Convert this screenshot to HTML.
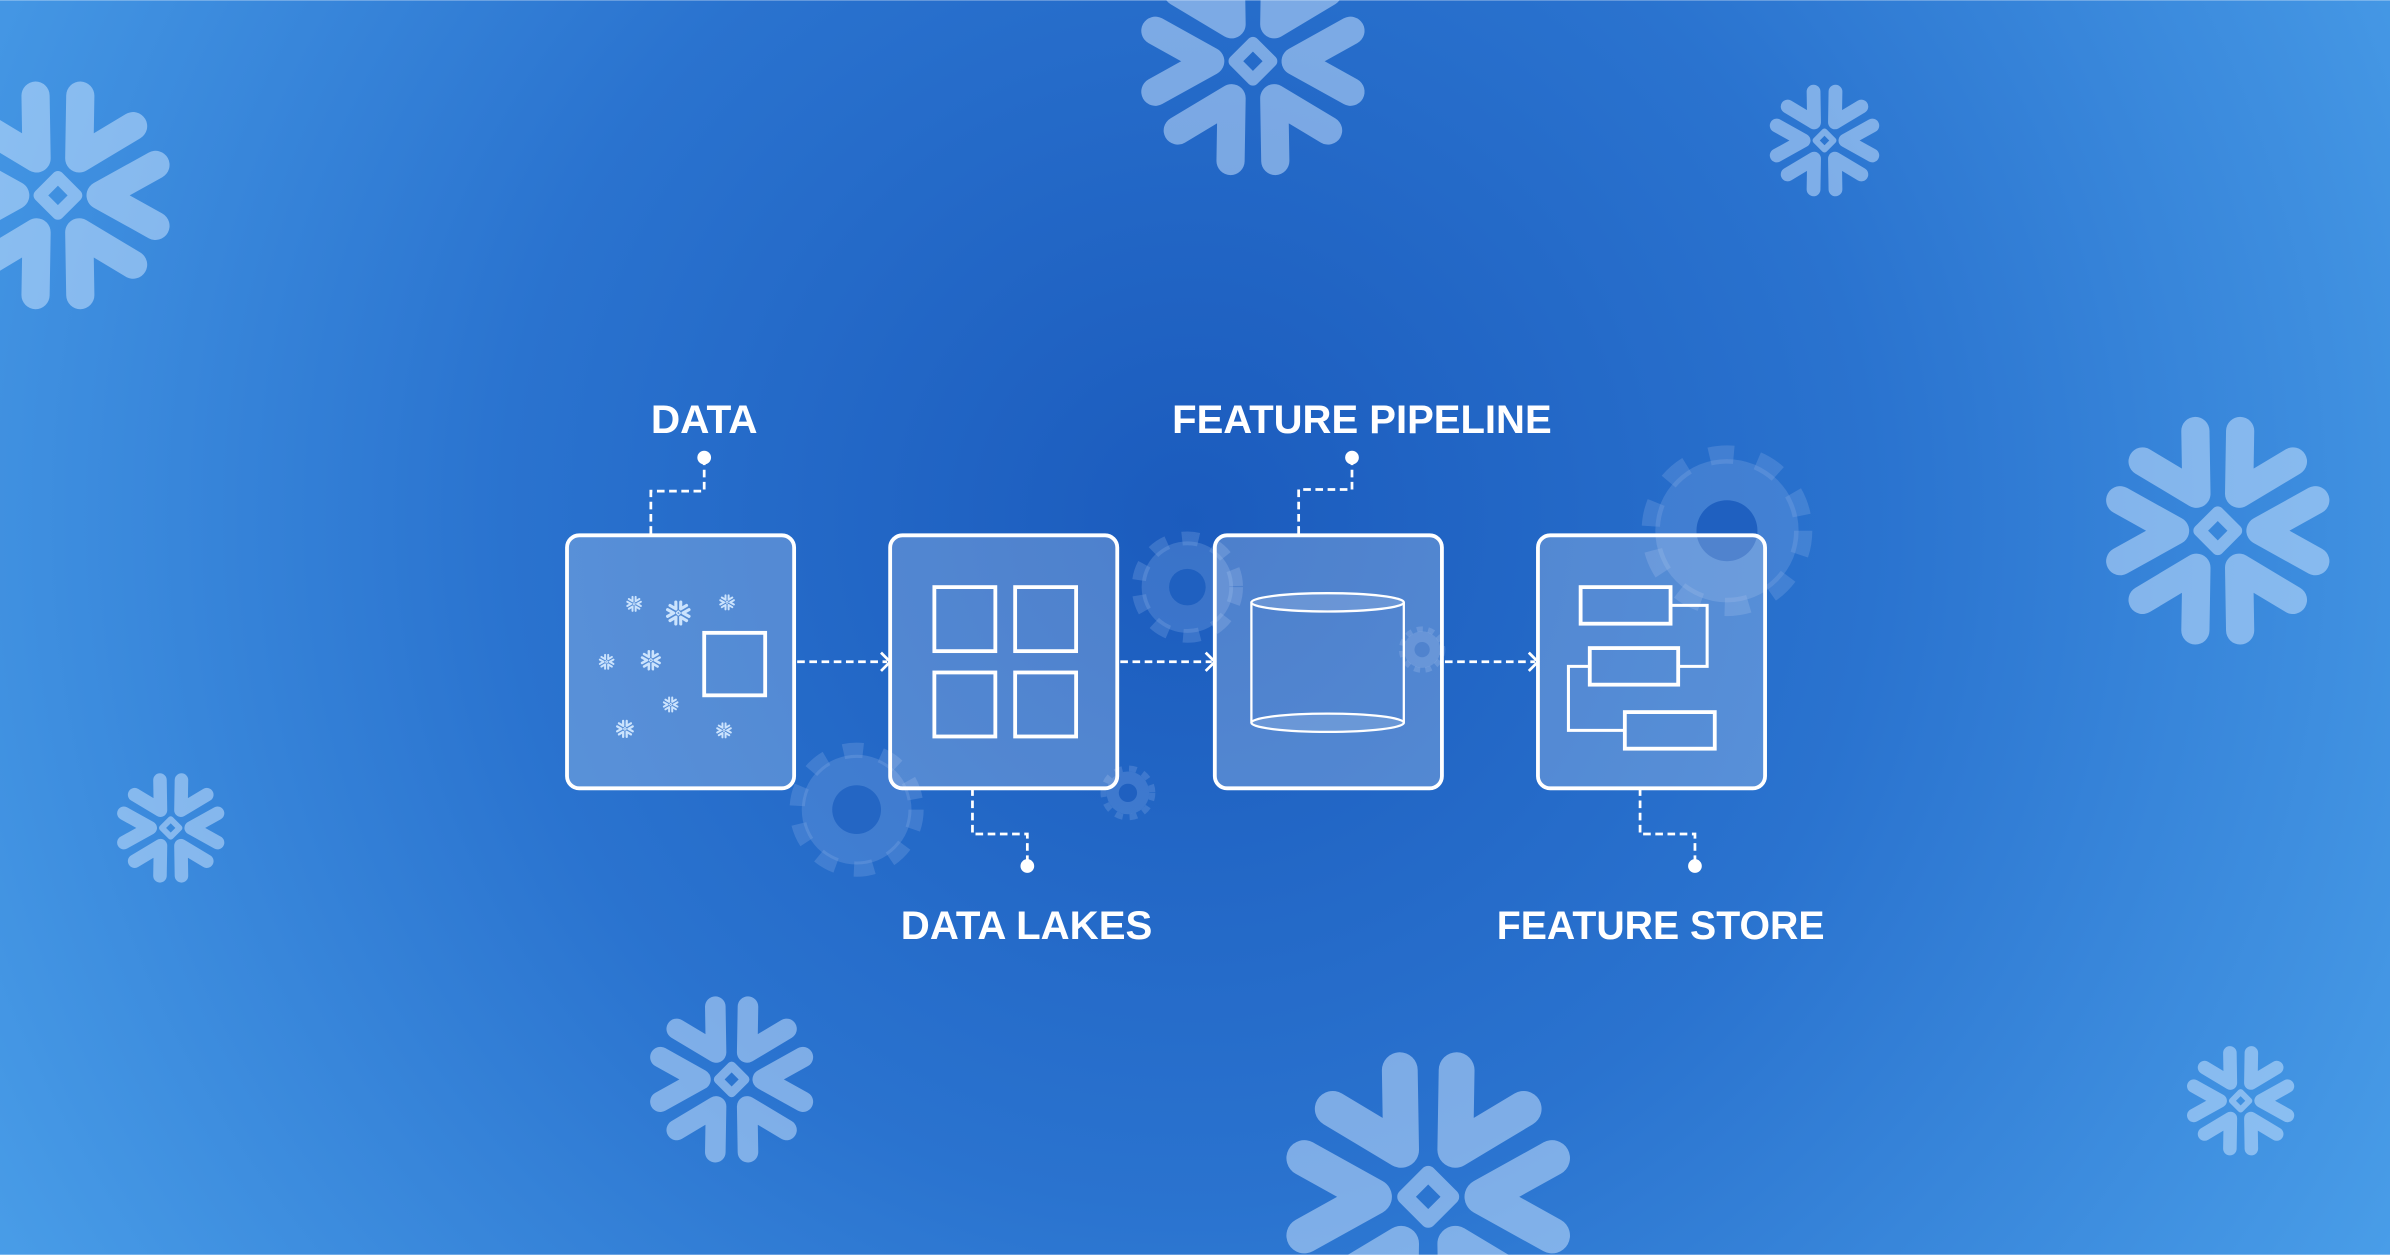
<!DOCTYPE html>
<html><head><meta charset="utf-8"><style>html,body{margin:0;padding:0;overflow:hidden;width:2390px;height:1255px;position:relative}svg{display:block;position:absolute;left:0;top:0}</style></head>
<body>
<svg width="2390" height="1255" viewBox="0 0 1568 823" xmlns="http://www.w3.org/2000/svg">
<defs>
<radialGradient id="bg" gradientUnits="userSpaceOnUse" cx="780" cy="340" r="1000">
<stop offset="0" stop-color="#1b5bbd"/>
<stop offset="0.45" stop-color="#2a73cf"/>
<stop offset="1" stop-color="#4ea4ec"/>
</radialGradient>
<g id="sf" fill="none" stroke-linecap="round" stroke-linejoin="round">
<g stroke-width="18.5">
<polyline points="64,-20 28,0 64,20"/>
<polyline points="64,-20 28,0 64,20" transform="rotate(60)"/>
<polyline points="64,-20 28,0 64,20" transform="rotate(120)"/>
<polyline points="64,-20 28,0 64,20" transform="rotate(180)"/>
<polyline points="64,-20 28,0 64,20" transform="rotate(240)"/>
<polyline points="64,-20 28,0 64,20" transform="rotate(300)"/>
</g>
<polygon points="0,-12 12,0 0,12 -12,0" stroke-width="8"/>
</g>
</defs>
<rect width="1568" height="823" fill="url(#bg)"/>

<g stroke="rgba(210,232,255,0.5)">
<use href="#sf" transform="translate(38,128) scale(1)"/>
<use href="#sf" transform="translate(822,40) scale(1)"/>
<use href="#sf" transform="translate(1197,92) scale(0.49)"/>
<use href="#sf" transform="translate(1455,348) scale(1)"/>
<use href="#sf" transform="translate(112,543) scale(0.48)"/>
<use href="#sf" transform="translate(480,708) scale(0.73)"/>
<use href="#sf" transform="translate(937,785) scale(1.27)"/>
<use href="#sf" transform="translate(1470,722) scale(0.48)"/>
</g>

<g fill="rgba(130,170,230,0.3)" stroke="rgba(130,170,230,0.3)">
<g transform="translate(1133,348)"><circle r="47" stroke="none"/><circle r="50" fill="none" stroke-width="12" stroke-dasharray="16 16"/></g>
<g transform="translate(779,385)"><circle r="30" stroke="none"/><circle r="32" fill="none" stroke-width="9" stroke-dasharray="11 10"/></g>
<g transform="translate(562,531)"><circle r="36" stroke="none"/><circle r="39" fill="none" stroke-width="10" stroke-dasharray="13 12"/></g>
<g transform="translate(740,520)"><circle r="14" stroke="none"/><circle r="16" fill="none" stroke-width="4" stroke-dasharray="5 4.5"/></g>
<g transform="translate(933,426)"><circle r="12" stroke="none"/><circle r="13.5" fill="none" stroke-width="3.5" stroke-dasharray="4 3.5"/></g>
</g>
<g fill="#1f60c0">
<circle cx="1133" cy="348" r="20"/>
<circle cx="779" cy="385" r="12"/>
<circle cx="562" cy="531" r="16" fill="#2466c4"/>
<circle cx="740" cy="520" r="6"/>
<circle cx="933" cy="426" r="5"/>
</g>

<g fill="rgba(255,255,255,0.22)" stroke="#fff" stroke-width="2.5">
<rect x="372" y="351" width="149" height="166" rx="8"/>
<rect x="584" y="351" width="149" height="166" rx="8"/>
<rect x="797" y="351" width="149" height="166" rx="8"/>
<rect x="1009" y="351" width="149" height="166" rx="8"/>
</g>

<g fill="none" stroke="#fff" stroke-width="2.5">
<rect x="462" y="415" width="40" height="41"/>
<rect x="613" y="385" width="40" height="42"/>
<rect x="666" y="385" width="40" height="42"/>
<rect x="613" y="441" width="40" height="42"/>
<rect x="666" y="441" width="40" height="42"/>
<line x1="821" y1="395" x2="821" y2="474" stroke-width="1.5"/>
<line x1="921" y1="395" x2="921" y2="474" stroke-width="1.5"/>
<ellipse cx="871" cy="395" rx="50" ry="6" stroke-width="1.5" fill="rgba(255,255,255,0.15)"/>
<ellipse cx="871" cy="474" rx="50" ry="6" stroke-width="1.5" fill="rgba(255,255,255,0.15)"/>
<rect x="1037" y="385" width="59" height="24"/>
<rect x="1043" y="425" width="58" height="24"/>
<rect x="1066" y="467" width="59" height="24"/>
<polyline points="1096,397 1120,397 1120,437 1101,437" stroke-width="2"/>
<polyline points="1043,437 1029,437 1029,479 1066,479" stroke-width="2"/>
</g>
<g stroke="rgba(210,232,255,0.95)">
<use href="#sf" transform="translate(416,396) scale(0.07)"/>
<use href="#sf" transform="translate(445,402) scale(0.11)"/>
<use href="#sf" transform="translate(477,395) scale(0.07)"/>
<use href="#sf" transform="translate(398,434) scale(0.07)"/>
<use href="#sf" transform="translate(427,433) scale(0.09)"/>
<use href="#sf" transform="translate(440,462) scale(0.07)"/>
<use href="#sf" transform="translate(410,478) scale(0.08)"/>
<use href="#sf" transform="translate(475,479) scale(0.07)"/>
</g>

<g fill="none" stroke="#fff" stroke-width="1.8" stroke-dasharray="5 3">
<line x1="523" y1="434" x2="582" y2="434"/>
<line x1="735" y1="434" x2="795" y2="434"/>
<line x1="948" y1="434" x2="1007" y2="434"/>
<polyline points="462,300 462,322 427,322 427,351"/>
<polyline points="887,300 887,321 852,321 852,351"/>
<polyline points="638,517 638,547 674,547 674,568"/>
<polyline points="1076,517 1076,547 1112,547 1112,568"/>
</g>
<g fill="none" stroke="#fff" stroke-width="1.8">
<polyline points="578,428 584,434 578,440"/>
<polyline points="791,428 797,434 791,440"/>
<polyline points="1003,428 1009,434 1003,440"/>
</g>
<g fill="#fff">
<circle cx="462" cy="300" r="4.5"/>
<circle cx="887" cy="300" r="4.5"/>
<circle cx="674" cy="568" r="4.5"/>
<circle cx="1112" cy="568" r="4.5"/>
</g>

<g fill="#fff" font-family="Liberation Sans, sans-serif" font-weight="bold" font-size="26">
<text x="427" y="284" textLength="70" lengthAdjust="spacingAndGlyphs">DATA</text>
<text x="769" y="284" textLength="249" lengthAdjust="spacingAndGlyphs">FEATURE  PIPELINE</text>
<text x="591" y="616" textLength="165" lengthAdjust="spacingAndGlyphs">DATA LAKES</text>
<text x="982" y="616" textLength="215" lengthAdjust="spacingAndGlyphs">FEATURE STORE</text>
</g>
</svg>
</body></html>
